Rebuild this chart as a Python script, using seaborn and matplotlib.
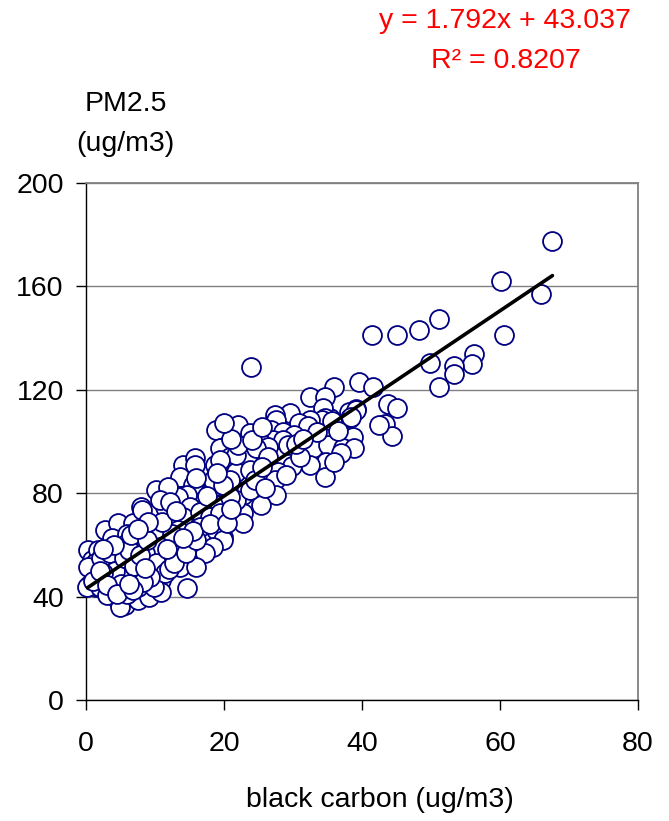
import matplotlib
matplotlib.use("Agg")
import matplotlib.pyplot as plt
import seaborn as sns
import pandas as pd

# ---- data ----
bc = [
    67.6, 60.2, 66.0, 60.6, 51.2, 48.3, 45.0, 41.5, 56.3, 56.0, 53.3, 53.3, 49.9, 51.2,
    39.5, 41.6, 36.0, 43.7, 45.1, 39.2, 38.1, 38.3, 43.3, 35.3, 44.4, 23.9,
    32.4, 34.7, 39.1, 38.4, 34.4, 34.7, 34.2, 32.4, 35.7, 29.5, 27.4, 27.6, 30.8, 32.2,
    42.5, 38.7, 26.8, 28.6, 30.2, 22.0, 18.8, 23.7, 27.1, 28.6, 25.2, 26.4, 29.3, 32.9,
    35.1, 37.2, 38.9, 37.0, 34.8, 32.4, 34.7, 29.9, 19.4, 20.8, 23.3, 24.7, 26.4, 27.8,
    27.4, 27.6, 25.4, 22.8, 21.8, 20.6, 18.4, 19.1, 21.8, 23.7, 17.5, 22.8,
    22.8, 21.8, 23.7, 21.8, 20.8,
    14.1, 15.8, 13.6, 15.5, 18.7, 19.4, 22.0, 16.5, 14.6, 13.4, 11.4, 10.7, 15.1, 17.0,
    19.4, 20.8, 19.9, 17.7, 16.3, 14.1, 12.2, 12.6, 10.2, 13.8, 17.0, 15.5, 11.2, 9.5,
    0.3, 0.5, 1.0, 0.8, 1.5, 2.7, 4.6, 6.8, 9.5, 11.4, 8.0, 5.8, 3.7, 1.7, 3.2, 5.1, 8.5,
    6.6, 9.0, 10.9, 11.4, 10.2, 8.0, 12.3, 13.3, 9.9, 14.6, 4.6, 2.7, 1.5, 5.6, 4.6, 7.5,
    9.2, 10.9, 7.5, 9.9, 3.7, 1.7,
    15.8, 18.4, 19.9, 10.2, 11.9, 10.7, 12.2, 8.1, 16.5, 17.9, 19.4, 5.9, 7.1, 9.5, 10.9,
    12.4, 16.5, 18.9, 19.9, 18.4, 17.2, 15.1, 13.1, 10.7, 1.3, 5.9, 8.5, 10.2, 13.6, 16.0,
    11.4, 9.3, 7.3, 4.9, 0.3, 0.2, 2.0, 3.7, 5.9, 4.9,
    2.2, 3.5, 4.2, 5.5, 6.2, 7.0, 7.8, 6.5, 4.0, 2.5, 8.8, 5.0, 6.0, 3.0, 8.2, 12.0, 12.8,
    14.5, 16.0, 11.0, 9.0, 7.5, 13.0, 15.5, 18.0, 20.5, 21.0, 17.5, 16.0, 19.0, 24.5,
    25.5, 26.0, 29.0, 31.0, 30.5, 24.0, 21.0, 20.0, 25.5, 33.5, 36.5, 31.5, 36.0,
    1.0, 2.0, 3.0, 4.5, 6.8, 8.6, 11.8, 14.0, 2.4, 6.2,
]
pm = [
    177.6, 162.1, 157.2, 141.2, 147.4, 143.1, 141.2, 141.2, 134.0, 130.0, 129.2, 126.0, 130.2, 121.1,
    122.9, 121.1, 121.2, 114.6, 113.1, 112.6, 111.3, 109.0, 106.8, 109.0, 102.1, 128.9,
    117.3, 117.3, 112.2, 109.6, 112.8, 109.0, 108.3, 108.3, 108.0, 111.1, 110.2, 108.3, 107.3, 106.0,
    106.4, 101.9, 104.4, 103.8, 102.5, 106.4, 104.4, 103.2, 100.6, 100.6, 99.9, 98.0, 98.6, 97.4,
    98.6, 97.4, 97.4, 95.4, 92.2, 90.9, 86.4, 90.5, 97.4, 94.1, 94.1, 97.4, 94.1, 88.2,
    85.1, 79.3, 75.4, 79.3, 81.2, 82.5, 82.5, 90.3, 88.3, 89.0, 74.8, 72.2,
    68.3, 77.4, 81.2, 94.8, 85.1,
    90.9, 93.5, 86.4, 83.2, 90.9, 92.8, 98.6, 76.7, 79.3, 78.6, 78.0, 72.8, 74.8, 72.2,
    75.4, 78.6, 63.2, 61.2, 68.3, 70.9, 67.7, 63.2, 63.2, 58.6, 58.0, 54.2, 55.4, 53.5,
    58.0, 44.5, 51.6, 54.2, 53.5, 65.8, 68.3, 68.3, 72.2, 74.8, 74.8, 61.2, 62.5, 58.0, 52.9, 52.9, 54.2,
    47.7, 49.0, 46.4, 54.2, 60.0, 60.0, 61.9, 65.8, 65.8, 43.3, 43.8, 42.6, 43.8, 36.8, 38.7, 38.7,
    40.0, 41.9, 43.8, 43.8, 47.0, 48.4,
    90.9, 85.1, 83.2, 81.2, 82.5, 77.4, 76.7, 73.5, 72.8, 70.9, 72.2, 64.4, 61.9, 63.8, 65.8,
    64.4, 67.0, 65.8, 61.9, 59.3, 56.7, 60.6, 56.7, 59.3, 52.9, 60.6, 56.7, 52.9, 51.6, 51.6,
    49.0, 47.7, 47.1, 47.7, 51.6, 43.8, 43.8, 42.6, 43.8, 36.1,
    55.0, 57.0, 50.0, 55.0, 58.0, 52.0, 56.0, 64.0, 60.0, 49.0, 62.0, 45.0, 41.0, 40.5, 45.5, 50.5, 53.0,
    57.0, 62.0, 69.0, 69.0, 66.0, 73.0, 65.5, 68.0, 68.5, 74.0, 79.0, 86.0, 88.0, 85.0,
    90.0, 82.0, 87.0, 94.0, 99.0, 100.5, 101.0, 107.0, 105.5, 103.5, 104.0, 101.0, 92.0,
    46.0, 50.0, 44.5, 41.0, 42.5, 51.0, 58.5, 62.5, 58.5, 45.0,
]
slope = 1.792
intercept = 43.037
eq_text = "y = 1.792x + 43.037"
r2_text = "R² = 0.8207"
x_ticks = [0, 20, 40, 60, 80]
y_ticks = [0, 40, 80, 120, 160, 200]
x_label = "black carbon (ug/m3)"
y_label_lines = ["PM2.5", "(ug/m3)"]

df = pd.DataFrame({"bc": bc, "pm": pm})
line_x = [min(bc), max(bc)]
line_df = pd.DataFrame({"bc": line_x, "pm": [slope * v + intercept for v in line_x]})

# ---- styling ----
sns.set_style("white")
plt.rcParams["font.family"] = ["Liberation Sans", "DejaVu Sans"]
plt.rcParams["text.color"] = "black"
FS = 20.5

fig = plt.figure(figsize=(6.69, 8.21), dpi=100)
ax = fig.add_axes([86 / 669, 121 / 821, (638 - 86) / 669, (700 - 183) / 821])

ax.yaxis.grid(True, color="#808080", linewidth=1.0, zorder=0)
ax.set_axisbelow(True)

sns.scatterplot(data=df, x="bc", y="pm", ax=ax, s=185, marker="o",
                facecolor="white", edgecolor="#000080", linewidth=1.3,
                zorder=3, legend=False, clip_on=False)
sns.lineplot(data=line_df, x="bc", y="pm", ax=ax, color="black",
             linewidth=2.6, zorder=4)

ax.set_xlim(0, 80)
ax.set_ylim(0, 200)
ax.set_xticks(x_ticks)
ax.set_yticks(y_ticks)
ax.set_xticklabels([str(t) for t in x_ticks], fontsize=FS)
ax.set_yticklabels([str(t) for t in y_ticks], fontsize=FS)
ax.set_xlabel("")
ax.set_ylabel("")
ax.tick_params(axis="both", direction="out", length=7, width=1.0, color="black",
               labelcolor="black")
ax.tick_params(axis="x", pad=15, bottom=True)
ax.tick_params(axis="y", pad=9, left=True)

for side in ["left", "bottom"]:
    ax.spines[side].set_color("black")
    ax.spines[side].set_linewidth(1.0)
for side in ["top", "right"]:
    ax.spines[side].set_color("#808080")
    ax.spines[side].set_linewidth(1.3)

fig.text(380 / 669, 1 - 800 / 821, x_label, ha="center", va="center", fontsize=FS, color="black")
fig.text(126 / 669, 1 - 104 / 821, y_label_lines[0], ha="center", va="center", fontsize=FS, color="black")
fig.text(125 / 669, 1 - 144 / 821, y_label_lines[1], ha="center", va="center", fontsize=FS, color="black")
fig.text(505 / 669, 1 - 21 / 821, eq_text, ha="center", va="center", fontsize=FS, color="#ff0000")
fig.text(506 / 669, 1 - 61 / 821, r2_text, ha="center", va="center", fontsize=FS, color="#ff0000")

fig.savefig("out.png", dpi=100)
